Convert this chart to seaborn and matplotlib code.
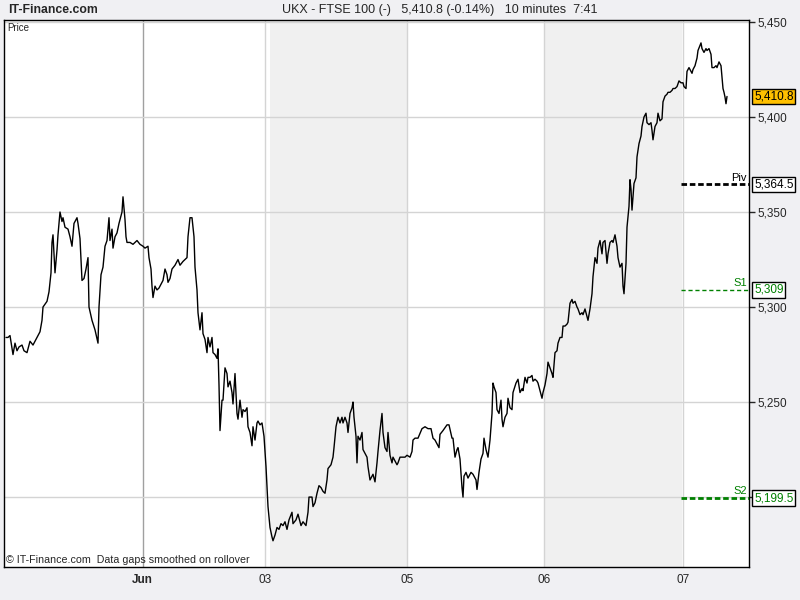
import numpy as np
import matplotlib
matplotlib.use("Agg")
import matplotlib.pyplot as plt
import seaborn as sns
from matplotlib.ticker import FuncFormatter

sns.set_style("white")
plt.rcParams['font.family'] = ['Liberation Sans', 'DejaVu Sans']

# time position along the session axis (10-minute bars, gaps smoothed) and price, per day
t_d1 = [2, 4, 6, 9, 11, 13, 15, 18, 20, 23, 26, 29, 33, 36, 38, 39, 43, 45, 47, 48,
        49, 51, 53, 54, 56, 58, 59, 61, 64, 66, 68, 70, 73, 74, 76, 78, 80, 82, 84, 85,
        88, 91, 94, 95, 97, 99, 101, 103, 105, 106, 108, 109, 111, 113, 115, 118, 119, 121, 122, 123,
        126, 129, 131, 133, 136]
p_d1 = [5284, 5284, 5285, 5275, 5281, 5277, 5279, 5280, 5277, 5276, 5282, 5280, 5284, 5287, 5293, 5300, 5303, 5308, 5318, 5334,
        5338, 5318, 5330, 5338, 5350, 5345, 5347, 5342, 5341, 5337, 5332, 5344, 5347, 5344, 5336, 5314, 5315, 5320, 5326, 5300,
        5293, 5288, 5281, 5300, 5317, 5321, 5332, 5335, 5347, 5335, 5341, 5331, 5337, 5339, 5344, 5350, 5358, 5346, 5337, 5334,
        5334, 5333, 5334, 5335, 5333]

t_d2 = [139, 141, 144, 145, 147, 148, 149, 151, 153, 155, 159, 161, 163, 164, 166, 168, 171, 174, 176, 179,
        183, 184, 186, 188, 190, 191, 193, 194, 196, 198, 199, 201, 203, 204, 206, 208, 209, 211, 213, 214,
        215, 216, 218, 219, 221, 223, 224, 226, 228, 229, 231, 233, 234, 236, 238, 239, 241, 243, 244, 246,
        248, 249, 251, 253, 254, 256, 258, 260, 262]
p_d2 = [5332, 5331, 5332, 5326, 5320, 5311, 5305, 5311, 5309, 5310, 5314, 5320, 5317, 5313, 5315, 5320, 5322, 5325, 5322, 5324,
        5326, 5337, 5347, 5347, 5337, 5321, 5309, 5297, 5288, 5297, 5286, 5283, 5276, 5284, 5279, 5284, 5276, 5275, 5273, 5278,
        5259, 5235, 5251, 5251, 5268, 5265, 5258, 5261, 5255, 5249, 5265, 5244, 5241, 5251, 5242, 5246, 5245, 5247, 5237, 5234,
        5227, 5237, 5230, 5239, 5240, 5238, 5239, 5232, 5216]

t_d3 = [264, 266, 268, 269, 271, 273, 275, 277, 279, 281, 283, 285, 288, 289, 292, 294, 297, 299, 302, 304,
        305, 308, 309, 311, 313, 315, 317, 319, 321, 323, 324, 327, 329, 330, 332, 334, 336, 338, 339, 341,
        343, 344, 346, 348, 349, 350, 352, 353, 354, 356, 358, 359, 361, 363, 364, 366, 369, 371, 373, 374,
        376, 378, 379, 381, 383, 384, 386, 388, 389, 391, 393, 394, 396, 399, 401]
p_d3 = [5195, 5184, 5179, 5177, 5180, 5184, 5183, 5186, 5185, 5187, 5183, 5188, 5192, 5186, 5188, 5191, 5185, 5187, 5185, 5192,
        5200, 5200, 5195, 5197, 5202, 5206, 5205, 5203, 5202, 5209, 5215, 5217, 5221, 5226, 5237, 5242, 5239, 5242, 5239, 5242,
        5239, 5234, 5244, 5247, 5250, 5242, 5232, 5218, 5232, 5230, 5234, 5225, 5223, 5221, 5216, 5209, 5212, 5208, 5218, 5224,
        5235, 5244, 5234, 5226, 5224, 5234, 5222, 5218, 5221, 5219, 5217, 5218, 5221, 5221, 5221]

t_d4 = [403, 406, 408, 409, 411, 414, 418, 421, 424, 427, 429, 431, 433, 435, 436, 439, 443, 445, 448, 449,
        451, 453, 454, 456, 458, 459, 460, 462, 464, 467, 469, 472, 473, 475, 477, 479, 480, 482, 484, 486,
        488, 489, 490, 492, 493, 495, 497, 498, 499, 501, 503, 504, 506, 508, 509, 512, 514, 516, 518, 519,
        521, 523, 524, 526, 528, 529, 531, 533, 534, 536, 538]
p_d4 = [5222, 5221, 5224, 5230, 5231, 5231, 5236, 5237, 5236, 5236, 5231, 5230, 5228, 5226, 5233, 5235, 5238, 5238, 5231, 5231,
        5221, 5225, 5226, 5220, 5205, 5200, 5211, 5213, 5210, 5213, 5212, 5209, 5204, 5213, 5220, 5223, 5231, 5225, 5221, 5230,
        5244, 5260, 5258, 5255, 5246, 5244, 5251, 5241, 5237, 5242, 5244, 5252, 5247, 5246, 5255, 5260, 5262, 5255, 5257, 5256,
        5263, 5260, 5263, 5263, 5264, 5261, 5262, 5261, 5260, 5256, 5252]

t_d5 = [539, 541, 543, 544, 546, 548, 549, 551, 553, 554, 556, 558, 559, 561, 563, 564, 566, 568, 569, 571,
        573, 574, 576, 578, 579, 581, 583, 584, 586, 588, 589, 591, 593, 594, 596, 598, 599, 601, 603, 604,
        606, 608, 609, 611, 613, 614, 616, 618, 619, 620, 622, 623, 625, 626, 627, 628, 630, 632, 633, 635,
        637, 638, 640, 642, 643, 645, 647, 648, 649, 651, 653, 654, 656, 658, 659, 661, 663, 664, 666, 668,
        669, 671, 673, 675]
p_d5 = [5255, 5259, 5265, 5271, 5268, 5265, 5263, 5276, 5277, 5281, 5284, 5284, 5290, 5290, 5291, 5292, 5302, 5304, 5302, 5303,
        5300, 5299, 5296, 5297, 5296, 5299, 5295, 5293, 5299, 5307, 5316, 5326, 5323, 5331, 5335, 5328, 5334, 5335, 5323, 5328,
        5334, 5335, 5334, 5338, 5332, 5326, 5321, 5323, 5311, 5307, 5323, 5342, 5353, 5367, 5362, 5351, 5365, 5368, 5379, 5386,
        5390, 5395, 5400, 5402, 5397, 5396, 5397, 5393, 5388, 5395, 5397, 5402, 5398, 5399, 5408, 5411, 5412, 5413, 5413, 5414,
        5415, 5415, 5416, 5419]

t_d6 = [677, 679, 680, 682, 683, 685, 688, 689, 691, 693, 694, 697, 698, 700, 702, 703, 705, 707, 708, 710,
        712, 713, 715, 717, 718, 719, 720, 721, 722, 723]
p_d6 = [5418, 5418, 5416, 5415, 5424, 5426, 5423, 5425, 5427, 5431, 5435, 5439, 5436, 5434, 5436, 5435, 5436, 5433, 5426, 5426,
        5427, 5426, 5429, 5427, 5421, 5415, 5413, 5410.5, 5407, 5410.8]

# day separators / labels
day_pos = [138.5, 261, 403, 540, 679]
day_labels = ["Jun", "03", "05", "06", "07"]
shaded_days = [(266, 403), (540, 678)]

price_ticks = [5200, 5250, 5300, 5350, 5400, 5450]
last_price = 5410.8
pivot = 5364.5
s1 = 5309
s2 = 5199.5
level_start = 677

t = t_d1 + t_d2 + t_d3 + t_d4 + t_d5 + t_d6
price = p_d1 + p_d2 + p_d3 + p_d4 + p_d5 + p_d6

bg = '#f0f0f3'
fig = plt.figure(figsize=(8, 6), dpi=100, facecolor=bg)
ax = fig.add_axes([4 / 800, 1 - 567 / 600, 745 / 800, 547 / 600])
ax.set_facecolor('white')

for a, b in shaded_days:
    ax.axvspan(a, b, color='#f0f0f0', lw=0, zorder=0)

sns.lineplot(x=t, y=price, ax=ax, color='black', lw=1, estimator=None, sort=False, zorder=3)

ax.set_xlim(0, 745)
ax.set_ylim(5163.2, 5451.05)

ax.set_xticks(day_pos)
ax.set_xticklabels(day_labels)
ax.get_xticklabels()[0].set_fontweight('bold')
ax.tick_params(axis='x', length=0, pad=5, labelsize=8.5)

# 5,200 label sits under the S2 box, so it is left blank like in the source
def price_fmt(v, p):
    if abs(v - s2) < 5:
        return ""
    return f"{v:,.0f}"

ax.yaxis.tick_right()
ax.set_yticks(price_ticks)
ax.yaxis.set_major_formatter(FuncFormatter(price_fmt))
ax.tick_params(axis='y', direction='out', length=4, width=1, pad=2, labelsize=8.5, right=True)

ax.set_axisbelow(True)
ax.grid(True, color='#d4d4d4', lw=1)
ax.xaxis.get_gridlines()[0].set_color('#a0a0a0')
ax.set_xlabel("")
ax.set_ylabel("")
for s in ax.spines.values():
    s.set_color('black')
    s.set_linewidth(1)

# pivot levels
ax.plot([level_start, 745], [pivot, pivot], color='black', lw=2, ls=(0, (2, 1)), zorder=4)
ax.plot([level_start, 745], [s1, s1], color='#008000', lw=1, ls=(0, (3, 2)), zorder=4)
ax.plot([level_start, 745], [s2, s2], color='#008000', lw=2, ls=(0, (2, 1)), zorder=4)
ax.text(743, pivot + 1, "Piv", ha='right', va='bottom', fontsize=8, color='black')
ax.text(743, s1 + 1, "S1", ha='right', va='bottom', fontsize=8, color='#008000')
ax.text(743, s2 + 1, "S2", ha='right', va='bottom', fontsize=8, color='#008000')

tr = ax.get_yaxis_transform()
boxes = [(last_price, f"{last_price:,.1f}", 'black', '#ffc000'),
         (pivot, f"{pivot:,.1f}", 'black', 'white'),
         (s1, f"{s1:,.0f}", '#008000', 'white'),
         (s2, f"{s2:,.1f}", '#008000', 'white')]
for val, lab, tc, fc in boxes:
    ax.text(1.007, val, lab, transform=tr, ha='left', va='center', fontsize=8.5, color=tc,
            bbox=dict(boxstyle='square,pad=0.15', fc=fc, ec='black', lw=1), zorder=5, clip_on=False)

ax.text(0.005, 0.995, "Price", transform=ax.transAxes, ha='left', va='top', fontsize=7)
ax.text(0.003, 0.004, "\u00a9 IT-Finance.com  Data gaps smoothed on rollover", transform=ax.transAxes,
        ha='left', va='bottom', fontsize=7.7)

fig.text(8 / 800, 1 - 10 / 600, "IT-Finance.com", ha='left', va='center', fontsize=8.8, fontweight='bold')
fig.text(440 / 800, 1 - 10 / 600, "UKX - FTSE 100 (-)   5,410.8 (-0.14%)   10 minutes  7:41",
         ha='center', va='center', fontsize=9)

fig.savefig("out.png", dpi=100, facecolor=bg)
